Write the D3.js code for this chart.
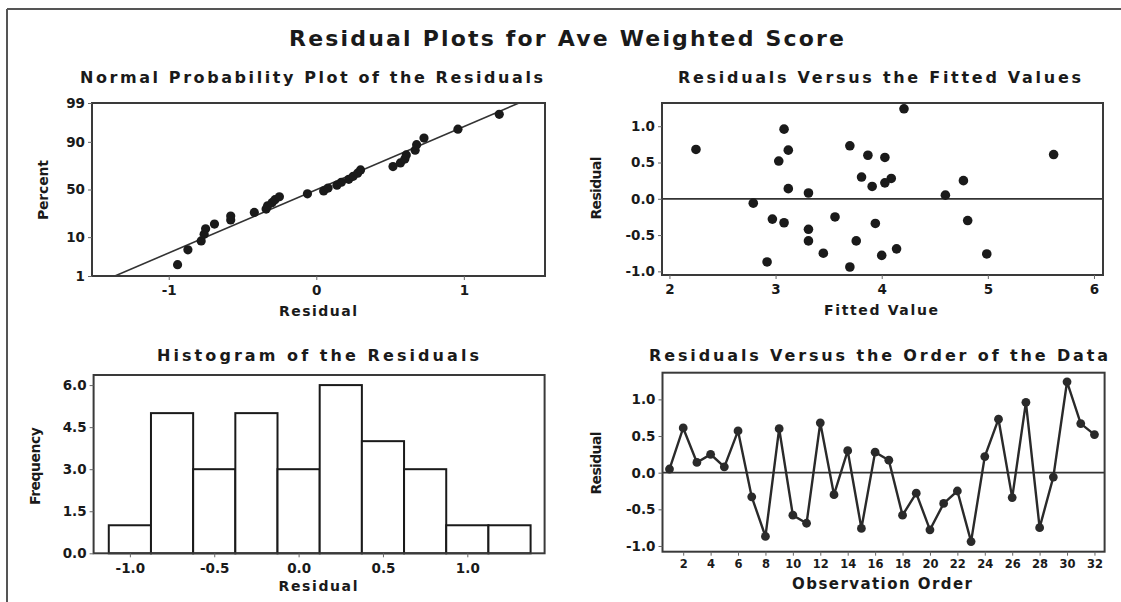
<!DOCTYPE html>
<html>
<head>
<meta charset="utf-8">
<script src="https://cdn.jsdelivr.net/npm/d3@7"></script>
<style>
  html, body { margin: 0; padding: 0; background: #fff; }
  svg { display: block; }
  text { font-family: "DejaVu Sans", Verdana, sans-serif; fill: #1a1a1a; }
</style>
</head>
<body>
<svg id="chart" width="1121" height="602"></svg>
<script>
// Residuals of the Ave Weighted Score model, in observation order
const residuals = [0.05, 0.61, 0.14, 0.25, 0.08, 0.57, -0.33, -0.87, 0.60, -0.58,
                   -0.69, 0.68, -0.30, 0.30, -0.76, 0.28, 0.17, -0.58, -0.28, -0.78,
                   -0.42, -0.25, -0.94, 0.22, 0.73, -0.34, 0.96, -0.75, -0.06, 1.24,
                   0.67, 0.52];
// Fitted values, same observation order
const fitted = [4.60, 5.62, 3.12, 4.77, 3.31, 4.03, 3.08, 2.92, 3.87, 3.31,
                4.14, 2.25, 4.81, 3.81, 4.99, 4.09, 3.91, 3.76, 2.97, 4.00,
                3.31, 3.56, 3.70, 4.03, 3.70, 3.94, 3.08, 3.45, 2.79, 4.21,
                3.12, 3.03];
// Histogram bin edges
const binEdges = [-1.125, -0.875, -0.625, -0.375, -0.125, 0.125, 0.375, 0.625, 0.875, 1.125, 1.375];
// Tick labels
const percentTicks = [1, 10, 50, 90, 99];
const probXTicks = [-1, 0, 1];
const fittedTicks = [2, 3, 4, 5, 6];
const residualTicks = [-1.0, -0.5, 0.0, 0.5, 1.0];
const freqTicks = [0, 1.5, 3.0, 4.5, 6.0];
const histXTicks = [-1.0, -0.5, 0.0, 0.5, 1.0];
const orderTicks = [2, 4, 6, 8, 10, 12, 14, 16, 18, 20, 22, 24, 26, 28, 30, 32];

// Inverse standard normal CDF (Acklam's rational approximation)
function qnorm(p) {
  const a = [-3.969683028665376e+01, 2.209460984245205e+02, -2.759285104469687e+02,
             1.383577518672690e+02, -3.066479806614716e+01, 2.506628277459239e+00];
  const b = [-5.447609879822406e+01, 1.615858368580409e+02, -1.556989798598866e+02,
             6.680131188771972e+01, -1.328068155288572e+01];
  const c = [-7.784894002430293e-03, -3.223964580411365e-01, -2.400758277161838e+00,
             -2.549732539343734e+00, 4.374664141464968e+00, 2.938163982698783e+00];
  const d = [7.784695709041462e-03, 3.224671290700398e-01, 2.445134137142996e+00,
             3.754408661907416e+00];
  const pl = 0.02425;
  let q, r;
  if (p < pl) {
    q = Math.sqrt(-2 * Math.log(p));
    return (((((c[0]*q+c[1])*q+c[2])*q+c[3])*q+c[4])*q+c[5]) / ((((d[0]*q+d[1])*q+d[2])*q+d[3])*q+1);
  } else if (p <= 1 - pl) {
    q = p - 0.5; r = q * q;
    return (((((a[0]*r+a[1])*r+a[2])*r+a[3])*r+a[4])*r+a[5])*q / (((((b[0]*r+b[1])*r+b[2])*r+b[3])*r+b[4])*r+1);
  } else {
    q = Math.sqrt(-2 * Math.log(1 - p));
    return -(((((c[0]*q+c[1])*q+c[2])*q+c[3])*q+c[4])*q+c[5]) / ((((d[0]*q+d[1])*q+d[2])*q+d[3])*q+1);
  }
}

const svg = d3.select("#chart");
const INK = "#1a1a1a";
const FRAME = "#3a3a3a";

// outer page border (top and left edges)
svg.append("line").attr("x1", 7).attr("y1", 9).attr("x2", 1121).attr("y2", 9)
  .attr("stroke", "#555").attr("stroke-width", 2);
svg.append("line").attr("x1", 7).attr("y1", 9).attr("x2", 7).attr("y2", 602)
  .attr("stroke", "#555").attr("stroke-width", 2);

// main title
svg.append("text").attr("x", 289).attr("y", 46)
  .attr("textLength", 555).attr("lengthAdjust", "spacing")
  .style("font-size", "22px").style("font-weight", "bold")
  .text("Residual Plots for Ave Weighted Score");

function subtitle(x0, x1, y, txt) {
  svg.append("text").attr("x", x0).attr("y", y)
    .attr("textLength", x1 - x0).attr("lengthAdjust", "spacing")
    .style("font-size", "16px").style("font-weight", "bold").text(txt);
}
function axisTitle(cx, y, w, txt, size) {
  svg.append("text").attr("x", cx - w / 2).attr("y", y)
    .attr("textLength", w).attr("lengthAdjust", "spacing")
    .style("font-size", (size || 14) + "px").style("font-weight", "bold").text(txt);
}
function yTitle(x, cy, w, txt) {
  svg.append("text").attr("transform", `translate(${x},${cy + w / 2}) rotate(-90)`)
    .attr("textLength", w).attr("lengthAdjust", "spacing")
    .style("font-size", "14px").style("font-weight", "bold").text(txt);
}
function styleAxis(g, size) {
  g.select(".domain").remove();
  g.selectAll(".tick line").attr("stroke", "#666").attr("stroke-width", 1);
  g.selectAll(".tick text").style("font-size", (size || 13.5) + "px")
    .style("font-weight", "bold").attr("fill", "#222")
    .style("font-family", '"DejaVu Sans", Verdana, sans-serif');
}
function frame(x, y) {
  const [l, r] = x.range(), [b, t] = y.range();
  svg.append("rect").attr("x", l).attr("y", t).attr("width", r - l).attr("height", b - t)
    .attr("fill", "none").attr("stroke", FRAME).attr("stroke-width", 2);
}
const fmt1 = d3.format(".1f");
const minus = s => s.replace("\u2212", "-");

// ---------- Normal probability plot ----------
{
  const zLo = qnorm(0.01), zHi = qnorm(0.99);
  const x = d3.scaleLinear().domain([-1.52, 1.55]).range([92, 545]);
  const y = d3.scaleLinear().domain([zLo, zHi]).range([276, 103]);
  const n = residuals.length;
  const sorted = residuals.slice().sort(d3.ascending);
  const pts = sorted.map((r, i) => ({ r, z: qnorm((i + 1 - 0.3) / (n + 0.4)) }));
  const mu = d3.mean(residuals), sd = d3.deviation(residuals);

  svg.append("clipPath").attr("id", "clipNP")
    .append("rect").attr("x", 92).attr("y", 103).attr("width", 453).attr("height", 173);
  svg.append("line").attr("clip-path", "url(#clipNP)")
    .attr("x1", x(mu + zLo * sd)).attr("y1", y(zLo))
    .attr("x2", x(mu + zHi * sd)).attr("y2", y(zHi))
    .attr("stroke", "#333").attr("stroke-width", 1.6);
  svg.append("g").selectAll("circle").data(pts).join("circle")
    .attr("cx", d => x(d.r)).attr("cy", d => y(d.z)).attr("r", 4.6).attr("fill", INK);
  frame(x, y);

  const gy = svg.append("g").attr("transform", "translate(92,0)")
    .call(d3.axisLeft(y).tickValues(percentTicks.map(p => qnorm(p / 100)))
      .tickFormat((d, i) => percentTicks[i]).tickSize(4).tickPadding(3));
  styleAxis(gy);
  const gx = svg.append("g").attr("transform", "translate(0,276)")
    .call(d3.axisBottom(x).tickValues(probXTicks).tickFormat(d => minus(String(d))).tickSize(4).tickPadding(5));
  styleAxis(gx);

  subtitle(80, 543, 83, "Normal Probability Plot of the Residuals");
  axisTitle(318, 316, 78, "Residual");
  yTitle(48, 190, 60, "Percent");
}

// ---------- Residuals vs fitted values ----------
{
  const x = d3.scaleLinear().domain([1.93, 6.085]).range([662, 1103]);
  const y = d3.scaleLinear().domain([-1.05, 1.32]).range([275, 103]);
  svg.append("line").attr("x1", 662).attr("x2", 1103).attr("y1", y(0)).attr("y2", y(0))
    .attr("stroke", "#333").attr("stroke-width", 1.8);
  svg.append("g").selectAll("circle").data(residuals.map((r, i) => ({ r, f: fitted[i] }))).join("circle")
    .attr("cx", d => x(d.f)).attr("cy", d => y(d.r)).attr("r", 4.8).attr("fill", INK);
  frame(x, y);
  const gy = svg.append("g").attr("transform", "translate(662,0)")
    .call(d3.axisLeft(y).tickValues(residualTicks).tickFormat(d => minus(fmt1(d))).tickSize(4).tickPadding(3));
  styleAxis(gy);
  const gx = svg.append("g").attr("transform", "translate(0,275)")
    .call(d3.axisBottom(x).tickValues(fittedTicks).tickFormat(d => String(d)).tickSize(4).tickPadding(5));
  styleAxis(gx);

  subtitle(678, 1081, 83, "Residuals Versus the Fitted Values");
  axisTitle(881, 315, 114, "Fitted Value");
  yTitle(601, 188, 63, "Residual");
}

// ---------- Histogram of residuals ----------
{
  const x = d3.scaleLinear().domain([-1.215, 1.458]).range([93.6, 544.6]);
  const y = d3.scaleLinear().domain([0, 6.36]).range([553.3, 375]);
  const bins = d3.bin().domain([binEdges[0], binEdges[binEdges.length - 1]])
    .thresholds(binEdges.slice(1, -1))(residuals);
  svg.append("g").selectAll("rect").data(bins).join("rect")
    .attr("x", d => x(d.x0)).attr("width", d => x(d.x1) - x(d.x0))
    .attr("y", d => y(d.length)).attr("height", d => y(0) - y(d.length))
    .attr("fill", "#fff").attr("stroke", INK).attr("stroke-width", 2);
  frame(x, y);
  const gy = svg.append("g").attr("transform", "translate(93.6,0)")
    .call(d3.axisLeft(y).tickValues(freqTicks).tickFormat(d => fmt1(d)).tickSize(4).tickPadding(3));
  styleAxis(gy);
  const gx = svg.append("g").attr("transform", "translate(0,553.3)")
    .call(d3.axisBottom(x).tickValues(histXTicks).tickFormat(d => minus(fmt1(d))).tickSize(4).tickPadding(6));
  styleAxis(gx);

  subtitle(157, 479, 361, "Histogram of the Residuals");
  axisTitle(318, 591, 79, "Residual");
  yTitle(40, 466, 78, "Frequency");
}

// ---------- Residuals vs observation order ----------
{
  const x = d3.scaleLinear().domain([0.49, 32.74]).range([662.5, 1104.6]);
  const y = d3.scaleLinear().domain([-1.078, 1.364]).range([551.7, 372.7]);
  const pts = residuals.map((r, i) => ({ i: i + 1, r }));
  svg.append("line").attr("x1", 662.5).attr("x2", 1104.6).attr("y1", y(0)).attr("y2", y(0))
    .attr("stroke", "#333").attr("stroke-width", 1.8);
  svg.append("path").datum(pts)
    .attr("d", d3.line().x(d => x(d.i)).y(d => y(d.r)))
    .attr("fill", "none").attr("stroke", "#2a2a2a").attr("stroke-width", 2.4);
  svg.append("g").selectAll("circle").data(pts).join("circle")
    .attr("cx", d => x(d.i)).attr("cy", d => y(d.r)).attr("r", 4.4).attr("fill", "#2a2a2a");
  frame(x, y);
  const gy = svg.append("g").attr("transform", "translate(662.5,0)")
    .call(d3.axisLeft(y).tickValues(residualTicks).tickFormat(d => minus(fmt1(d))).tickSize(4).tickPadding(3));
  styleAxis(gy);
  const gx = svg.append("g").attr("transform", "translate(0,551.7)")
    .call(d3.axisBottom(x).tickValues(orderTicks).tickFormat(d => String(d)).tickSize(4).tickPadding(4));
  styleAxis(gx, 11.5);

  subtitle(649, 1108, 361, "Residuals Versus the Order of the Data");
  axisTitle(882, 589, 180, "Observation Order", 15);
  yTitle(601, 463, 63, "Residual");
}
</script>
</body>
</html>
